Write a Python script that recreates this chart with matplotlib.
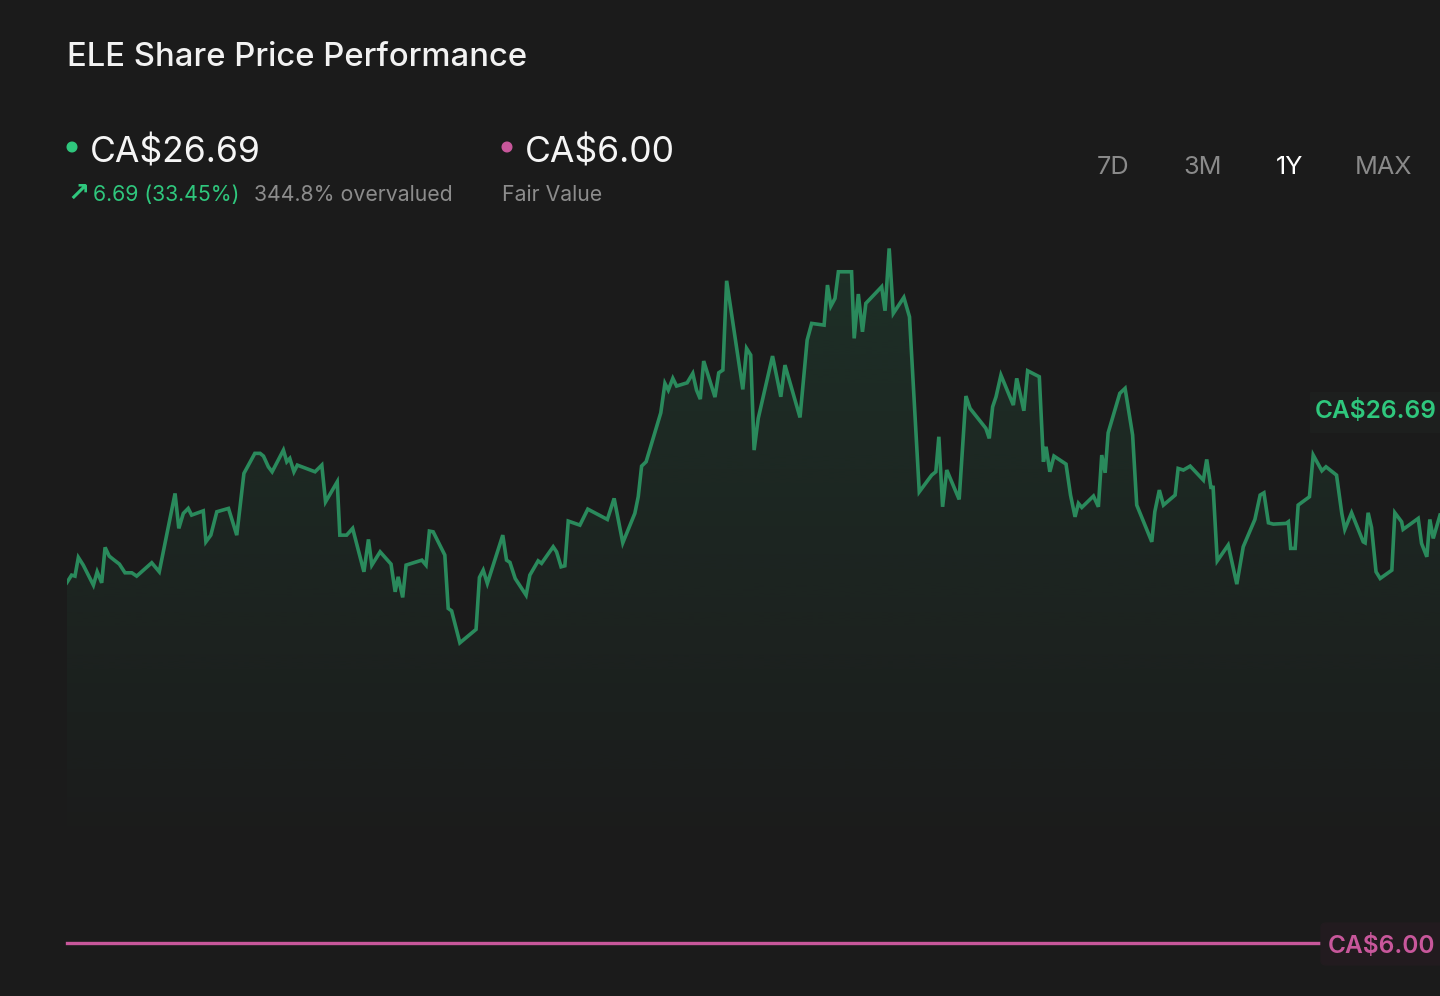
import numpy as np
import matplotlib
matplotlib.use("Agg")
import matplotlib.pyplot as plt

# ---------------- data ----------------
TICKER = "ELE"
CURRENCY = "CA$"
LAST_PRICE = 26.69
CHANGE = 6.69
CHANGE_PCT = 33.45
OVERVALUED_PCT = 344.8
FAIR_VALUE = 6.00
PERIODS = ["7D", "3M", "1Y", "MAX"]
ACTIVE_PERIOD = "1Y"

# day offsets over the 1Y window (turning points of the price path)
DAYS = [0.0, 1.3, 2.2, 3.1, 4.4, 7.1, 8.1, 9.3, 10.2, 11.3, 12.4, 14.0, 15.5, 17.3, 18.6,
        22.6, 24.6, 28.8, 29.8, 31.0, 32.3, 33.2, 36.3, 37.0, 38.3, 39.9, 43.0, 45.2, 47.1,
        50.0, 51.4, 52.3, 53.6, 54.6, 57.6, 58.5, 59.3, 60.4, 61.3, 66.0, 67.8, 68.8, 71.9,
        72.6, 74.4, 76.0, 79.0, 80.2, 81.1, 83.3, 86.2, 87.3, 88.1, 89.3, 90.2, 94.4, 95.5,
        96.4, 97.4, 100.5, 101.4, 102.3, 104.5, 108.8, 109.7, 110.7, 111.8, 115.9, 116.9,
        117.8, 119.2, 122.1, 123.1, 125.3, 126.2, 129.3, 130.2, 131.4, 132.4, 133.3, 136.4,
        138.5, 143.7, 145.5, 147.8, 151.0, 151.9, 152.8, 154.0, 157.9, 159.0, 159.9, 161.1,
        162.1, 164.9, 166.4, 167.4, 168.4, 169.3, 172.3, 173.3, 174.4, 175.4, 179.7, 180.7,
        181.8, 182.7, 183.8, 187.6, 189.8, 190.9, 194.9, 196.8, 198.0, 201.3, 202.2, 203.1,
        204.2, 205.1, 208.6, 209.3, 210.4, 211.5, 212.4, 216.6, 217.5, 218.6, 219.7, 222.5,
        224.0, 226.6, 229.9, 231.0, 231.8, 232.8, 233.9, 237.2, 239.0, 240.1, 244.3, 245.2,
        246.1, 247.0, 248.3, 251.6, 252.5, 254.4, 255.4, 258.5, 259.6, 260.3, 261.3, 262.4,
        265.6, 266.8, 268.0, 268.9, 269.8, 272.9, 274.2, 275.1, 276.0, 276.8, 279.9, 281.3,
        283.3, 284.4, 288.4, 289.2, 290.4, 291.5, 294.6, 295.4, 296.8, 298.6, 302.1, 303.0,
        304.1, 304.7, 305.8, 308.7, 311.0, 312.7, 315.8, 317.2, 318.2, 319.4, 320.7, 324.1,
        324.7, 325.3, 326.5, 327.3, 330.3, 331.3, 333.6, 334.7, 337.5, 338.9, 339.7, 341.5,
        344.6, 345.1, 345.9, 346.8, 348.0, 349.1, 352.2, 353.0, 354.8, 355.2, 359.2, 360.1,
        361.5, 362.3, 363.2, 365.0]

PRICES = [20.00, 20.76, 20.66, 22.51, 21.75, 19.77, 21.09, 20.00, 23.50, 22.64, 22.31, 21.85,
          20.99, 20.99, 20.66, 21.98, 21.09, 28.83, 25.38, 26.86, 27.35, 26.69, 27.11, 24.05,
          24.71, 27.02, 27.35, 24.71, 30.81, 32.79, 32.79, 32.52, 31.46, 30.97, 33.11, 31.96,
          32.29, 30.97, 31.63, 30.97, 31.63, 28.00, 29.98, 24.71, 24.71, 25.38, 21.09, 24.29,
          21.75, 23.06, 21.85, 19.11, 20.59, 18.56, 21.75, 22.24, 21.75, 25.11, 25.04, 22.74,
          17.47, 17.23, 14.07, 15.40, 20.53, 21.25, 19.94, 24.71, 22.24, 22.02, 20.43, 18.78,
          20.76, 22.17, 21.92, 23.56, 23.06, 21.58, 21.68, 26.10, 25.70, 27.28, 26.26, 28.34,
          23.95, 26.86, 28.50, 31.53, 31.96, 36.80, 39.70, 39.04, 40.20, 39.44, 39.76, 40.69,
          39.04, 38.15, 41.91, 38.35, 40.75, 41.02, 49.84, 39.11, 43.16, 42.50, 33.11, 36.25,
          42.40, 38.38, 41.51, 36.34, 43.98, 45.63, 45.46, 49.42, 47.34, 48.10, 50.73, 50.73,
          44.15, 48.53, 44.80, 47.61, 49.25, 46.88, 53.04, 46.62, 48.20, 46.28, 28.99, 30.64,
          30.97, 34.43, 27.51, 31.14, 28.24, 38.45, 37.23, 35.26, 34.27, 37.39, 38.38, 40.52,
          37.56, 40.20, 37.00, 40.95, 40.36, 31.96, 33.44, 30.97, 32.52, 31.73, 28.67, 26.52,
          27.85, 27.45, 28.57, 27.51, 32.62, 30.87, 34.82, 38.72, 39.21, 34.60, 27.68, 24.05,
          27.02, 29.16, 27.68, 28.67, 31.30, 31.14, 31.53, 30.15, 32.19, 29.43, 29.43, 22.17,
          23.73, 19.87, 23.56, 26.26, 28.67, 28.89, 25.93, 25.80, 25.87, 26.03, 23.40, 23.40,
          27.68, 28.50, 32.62, 31.07, 31.46, 30.64, 26.86, 25.28, 26.92, 24.05, 23.95, 26.92,
          25.47, 21.09, 20.43, 21.25, 26.92, 26.03, 25.28, 26.36, 23.89, 22.57, 26.26, 24.39,
          26.69]

# ---------------- style ----------------
BG = "#1b1b1b"
LINE = "#2a8a5c"
GREEN = "#2fc77d"
PINK = "#c8579b"
GREY = "#8c8c8c"
FONT = ["Inter", "DejaVu Sans"]

W, H, DPI = 1440, 996, 100
fig = plt.figure(figsize=(W / DPI, H / DPI), dpi=DPI, facecolor=BG)


def fx(px):
    return px / W


def fy(py):
    return 1 - py / H


# main axes: from x=66.7px to right edge, y from 220px to 943px
ax = fig.add_axes([fx(66.7), fy(943), fx(1440 - 66.7), (943 - 220) / H])
ax.set_facecolor(BG)
ax.patch.set_alpha(0)
for s in ax.spines.values():
    s.set_visible(False)
ax.set_xticks([])
ax.set_yticks([])

days = np.array(DAYS)
prices = np.array(PRICES)
lo, hi = prices.min(), prices.max()
rng = hi - lo
y0, y1 = lo - 0.761 * rng, hi + 0.072 * rng
ax.set_xlim(0, 365)
ax.set_ylim(y0, y1)

# gradient area under the line
y_fade = lo - 0.575 * rng
poly = ax.fill_between(days, prices, y_fade, color="none", lw=0)
n = 256
grad = np.zeros((n, 1, 4))
rgb = matplotlib.colors.to_rgb("#2e9464")
grad[:, 0, 0], grad[:, 0, 1], grad[:, 0, 2] = rgb
grad[:, 0, 3] = np.linspace(0.17, 0.0, n)
im = ax.imshow(grad, extent=[0, 365, y_fade, hi], origin="upper", aspect="auto",
               interpolation="bilinear", zorder=1)
im.set_clip_path(poly.get_paths()[0], transform=ax.transData)

ax.plot(days, prices, color=LINE, lw=2.6, zorder=3, solid_joinstyle="miter")

# fair value line: below the visible price range -> pinned to the bottom edge
fv_y = 0.0 if FAIR_VALUE < lo else (FAIR_VALUE - y0) / (y1 - y0)
ax.plot([0, (1320 - 66.7) / (1440 - 66.7)], [fv_y, fv_y], transform=ax.transAxes,
        color=PINK, lw=2.4, clip_on=False, zorder=4)

# ---------------- texts ----------------
fig.text(fx(67), fy(66), f"{TICKER} Share Price Performance", color="#f2f2f2",
         fontsize=23.6, family=FONT, fontweight="medium", va="baseline")

# header price
fig.patches.append(matplotlib.patches.Ellipse((fx(72), fy(147)), 9.6 / W, 9.6 / H,
                                              transform=fig.transFigure, color=GREEN))
fig.text(fx(90), fy(162), f"{CURRENCY}{LAST_PRICE:.2f}", color="#f5f5f5", fontsize=25.6,
         family=FONT, va="baseline")
fig.text(fx(67), fy(201), "\u2197", color=GREEN, fontsize=19, family=["DejaVu Sans"],
         va="baseline", fontweight="bold")
fig.text(fx(93), fy(201), f"{CHANGE:.2f} ({CHANGE_PCT:.2f}%)", color=GREEN, fontsize=15.3,
         family=FONT, va="baseline")
fig.text(fx(254), fy(201), f"{OVERVALUED_PCT:.1f}% overvalued", color=GREY, fontsize=15.3,
         family=FONT, va="baseline")

# header fair value
fig.patches.append(matplotlib.patches.Ellipse((fx(507), fy(147)), 9.6 / W, 9.6 / H,
                                              transform=fig.transFigure, color=PINK))
fig.text(fx(525), fy(162), f"{CURRENCY}{FAIR_VALUE:.2f}", color="#f5f5f5", fontsize=25.6,
         family=FONT, va="baseline")
fig.text(fx(502), fy(201), "Fair Value", color=GREY, fontsize=15.3, family=FONT, va="baseline")

# period selector
period_x = [1097, 1183, 1276, 1355]
for lab, px in zip(PERIODS, period_x):
    fig.text(fx(px), fy(174), lab, color="#ffffff" if lab == ACTIVE_PERIOD else "#8a8a8a",
             fontsize=18.2, family=FONT, va="baseline")

# right-hand value labels
fig.patches.append(matplotlib.patches.Rectangle((fx(1310), fy(432)), fx(130), 40 / H,
                                                transform=fig.transFigure, color="#1d1f1e", zorder=0))
fig.text(fx(1315), fy(418), f"{CURRENCY}{LAST_PRICE:.2f}", color=GREEN, fontsize=17.6,
         family=FONT, fontweight="semibold", va="baseline")
fig.patches.append(matplotlib.patches.FancyBboxPatch((fx(1321), fy(965)), fx(125), 42 / H,
                                                     boxstyle="round,pad=0,rounding_size=0.004",
                                                     transform=fig.transFigure, color="#221b1f",
                                                     zorder=0))
fig.text(fx(1328), fy(953), f"{CURRENCY}{FAIR_VALUE:.2f}", color=PINK, fontsize=17.6,
         family=FONT, fontweight="semibold", va="baseline")

fig.savefig("out.png", dpi=DPI, facecolor=BG)
